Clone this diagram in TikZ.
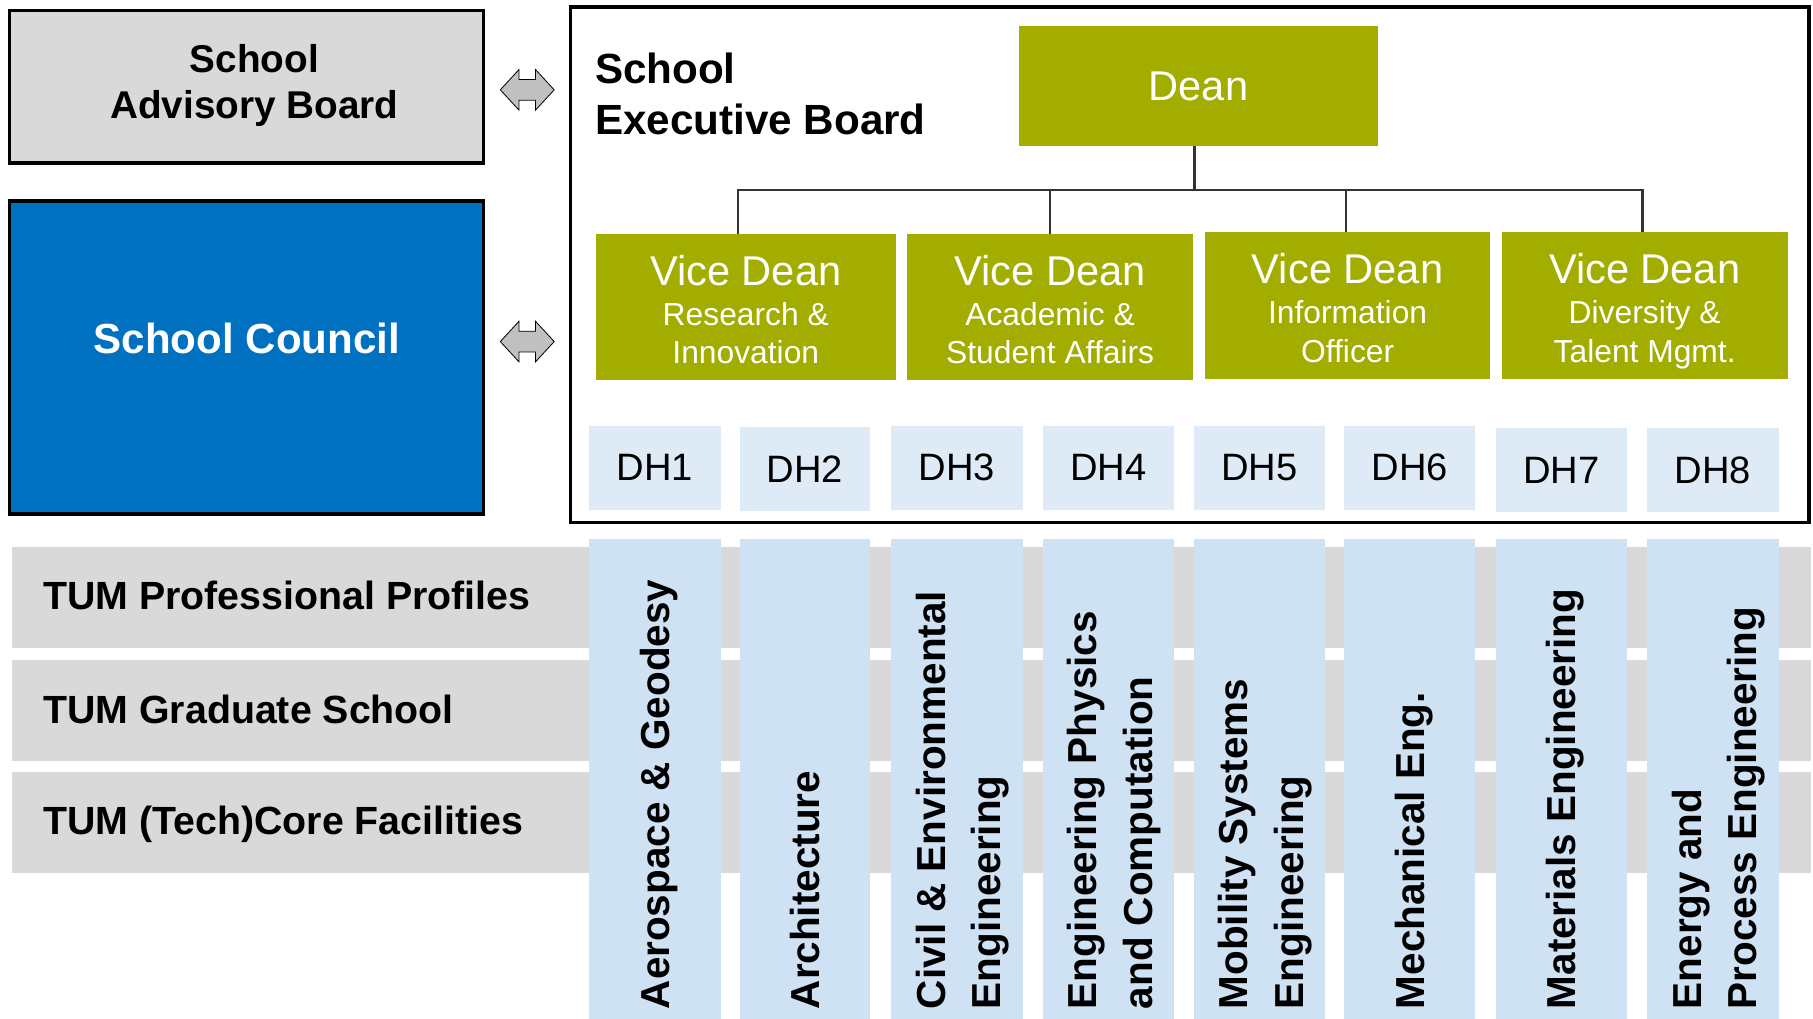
\documentclass[tikz,border=0pt]{standalone}
\usepackage{fontspec}
\setmainfont{Liberation Sans}
\usetikzlibrary{calc}
\definecolor{tumgreen}{HTML}{A2AD00}
\definecolor{tumblue}{HTML}{0070C0}
\definecolor{boxgray}{HTML}{D9D9D9}
\definecolor{colblue}{HTML}{CFE2F3}
\definecolor{dhblue}{HTML}{DEEAF6}
\definecolor{arrowgray}{HTML}{C0C0C0}
\definecolor{connline}{HTML}{333333}
\newcommand\fs[2]{\fontsize{#1}{#2}\selectfont}
% name, style, x1, y1, x2, y2, text
\newcommand\mkbox[7]{\node[#2, anchor=north west, inner sep=0pt, outer sep=0pt,
  minimum width={(#5-#3)*1pt}, minimum height={(#6-#4)*1pt}] (#1) at (#3,#4) {#7};}
\tikzset{
  framebox/.style={draw=black, line width=3pt},
  advstyle/.style={framebox, fill=boxgray},
  councilstyle/.style={framebox, fill=tumblue},
  exstyle/.style={framebox},
  greenbox/.style={fill=tumgreen},
  deanbox/.style={greenbox, text=white, font=\fs{36}{40}},
  dhbox/.style={fill=dhblue, font=\fs{33}{40}},
  colbox/.style={fill=colblue},
  barbox/.style={fill=boxgray},
  conn/.style={draw=connline, line width=2pt},
  arrowbody/.style={draw=black, line width=0.7pt, fill=arrowgray, line join=miter},
  advtext/.style={font=\fs{33.5}{40}\bfseries, inner sep=0pt, anchor=base},
  titletext/.style={font=\fs{36.5}{44}\bfseries, inner sep=0pt, anchor=base west},
  counciltext/.style={font=\fs{36.4}{44}\bfseries, text=white, inner sep=0pt, anchor=base},
  vdhead/.style={font=\fs{36}{40}, text=white, inner sep=0pt, anchor=base},
  vdsub/.style={font=\fs{27.5}{32}, text=white, inner sep=0pt, anchor=base},
  bartext/.style={font=\fs{34}{40}\bfseries, inner sep=0pt, anchor=base west},
  coltext/.style={font=\fs{35}{48}\bfseries, inner sep=0pt, rotate=90, align=left},
  dblarrow/.pic={\path[arrowbody] (-23.3,0) -- (-7.2,-17.5) -- (-7.2,-9) -- (7.2,-9)
     -- (7.2,-17.5) -- (23.3,0) -- (7.2,17.5) -- (7.2,9) -- (-7.2,9) -- (-7.2,17.5) -- cycle;}
}
\begin{document}
\begin{tikzpicture}[x=1pt, y=-1pt]
\fill[white] (0,0) rectangle (1568,881);
\useasboundingbox (0,0) rectangle (1568,881);

% left boxes
\mkbox{adv}{advstyle}{8.3}{8.9}{418}{141}{}
\node[advtext] (advt1) at (220,62.5) {School};
\node[advtext] (advt2) at (220,102.7) {Advisory Board};
\mkbox{council}{councilstyle}{8.3}{174}{418}{444.5}{}
\node[counciltext] (councilt) at (213.5,305.3) {School Council};

% double arrows
\pic (arr1) at (456,77.7) {dblarrow};
\pic (arr2) at (456,295.4) {dblarrow};

% executive board frame
\mkbox{exec}{exstyle}{493.5}{6}{1564.5}{452}{}
\node[titletext] (ext1) at (514.4,72.5) {School};
\node[titletext] (ext2) at (514.4,116.3) {Executive Board};

% dean
\mkbox{dean}{deanbox}{881.4}{22.3}{1191.7}{126.6}{Dean}

% vice deans
\mkbox{vd1}{greenbox}{515.5}{202.5}{774.6}{329}{}
\mkbox{vd2}{greenbox}{784.7}{202.5}{1031.7}{329}{}
\mkbox{vd3}{greenbox}{1042}{201}{1289}{327.6}{}
\mkbox{vd4}{greenbox}{1298.8}{201}{1546}{327.6}{}
\node[vdhead] (vd1a) at (645,246.6) {Vice Dean};
\node[vdsub]  (vd1b) at (645,281.4) {Research \&};
\node[vdsub]  (vd1c) at (645,314.8) {Innovation};
\node[vdhead] (vd2a) at (908.2,246.6) {Vice Dean};
\node[vdsub]  (vd2b) at (908.2,281.4) {Academic \&};
\node[vdsub]  (vd2c) at (908.2,314.8) {Student Affairs};
\node[vdhead] (vd3a) at (1165.5,244.8) {Vice Dean};
\node[vdsub]  (vd3b) at (1165.5,280) {Information};
\node[vdsub]  (vd3c) at (1165.5,313.3) {Officer};
\node[vdhead] (vd4a) at (1422.4,244.8) {Vice Dean};
\node[vdsub]  (vd4b) at (1422.4,280) {Diversity \&};
\node[vdsub]  (vd4c) at (1422.4,313.3) {Talent Mgmt.};

% connectors
\coordinate (bus) at (0,164.4);
\coordinate (t0) at ([xshift=-3.5pt]dean.south);
\coordinate (t1) at ([xshift=-7pt]vd1.north);
\coordinate (t2) at ([xshift=-0.3pt]vd2.north);
\coordinate (t3) at ([xshift=-1.6pt]vd3.north);
\coordinate (t4) at ([xshift=-2pt]vd4.north);
\draw[conn] (t0) -- (t0 |- bus);
\draw[conn] (t1) -- (t1 |- bus) -- (t4 |- bus) -- (t4);
\draw[conn] (t2) -- (t2 |- bus);
\draw[conn] (t3) -- (t3 |- bus);

% department heads
\mkbox{dh1}{dhbox}{509.5}{368.4}{623.3}{440.8}{DH1}
\mkbox{dh2}{dhbox}{640}{369.3}{752.5}{441.7}{DH2}
\mkbox{dh3}{dhbox}{770.4}{368.4}{884.7}{440.8}{DH3}
\mkbox{dh4}{dhbox}{902}{368.4}{1015}{440.8}{DH4}
\mkbox{dh5}{dhbox}{1032.6}{368.4}{1146}{440.8}{DH5}
\mkbox{dh6}{dhbox}{1162.3}{368.4}{1276}{440.8}{DH6}
\mkbox{dh7}{dhbox}{1293.7}{370.2}{1406.7}{442.9}{DH7}
\mkbox{dh8}{dhbox}{1424.2}{370.2}{1538.2}{442.9}{DH8}

% horizontal bars
\mkbox{bar1}{barbox}{10}{473.4}{1566}{560.1}{}
\mkbox{bar2}{barbox}{10}{570.8}{1566}{657.9}{}
\mkbox{bar3}{barbox}{10}{668}{1566}{754.7}{}

% department columns
\mkbox{col1}{colbox}{509.5}{466.2}{623.3}{881}{}
\mkbox{col2}{colbox}{640}{466.2}{752.5}{881}{}
\mkbox{col3}{colbox}{770.4}{466.2}{884.7}{881}{}
\mkbox{col4}{colbox}{902}{466.2}{1015}{881}{}
\mkbox{col5}{colbox}{1032.6}{466.2}{1146}{881}{}
\mkbox{col6}{colbox}{1162.3}{466.2}{1276}{881}{}
\mkbox{col7}{colbox}{1293.7}{466.2}{1406.7}{881}{}
\mkbox{col8}{colbox}{1424.2}{466.2}{1538.2}{881}{}

% bar texts
\node[bartext] (bt1) at (37.2,527) {TUM Professional Profiles};
\node[bartext] (bt2) at (37.2,626) {TUM Graduate School};
\node[bartext] (bt3) at (37.2,721.3) {TUM (Tech)Core Facilities};

% column texts
\node[coltext, anchor=base west] (ct1) at (578.9,873) {Aerospace \& Geodesy};
\node[coltext, anchor=base west] (ct2) at (708.8,873) {Architecture};
\node[coltext, anchor=west] (ct3) at (832.6,873) {Civil \& Environmental\\Engineering};
\node[coltext, anchor=west] (ct4) at (963.5,873) {Engineering Physics\\and Computation};
\node[coltext, anchor=west] (ct5) at (1094.3,873) {Mobility Systems\\Engineering};
\node[coltext, anchor=base west] (ct6) at (1231.7,873) {Mechanical Eng.};
\node[coltext, anchor=base west] (ct7) at (1362.7,873) {Materials Engineering};
\node[coltext, anchor=west] (ct8) at (1486.2,873) {Energy and\\Process Engineering};
\end{tikzpicture}
\end{document}
